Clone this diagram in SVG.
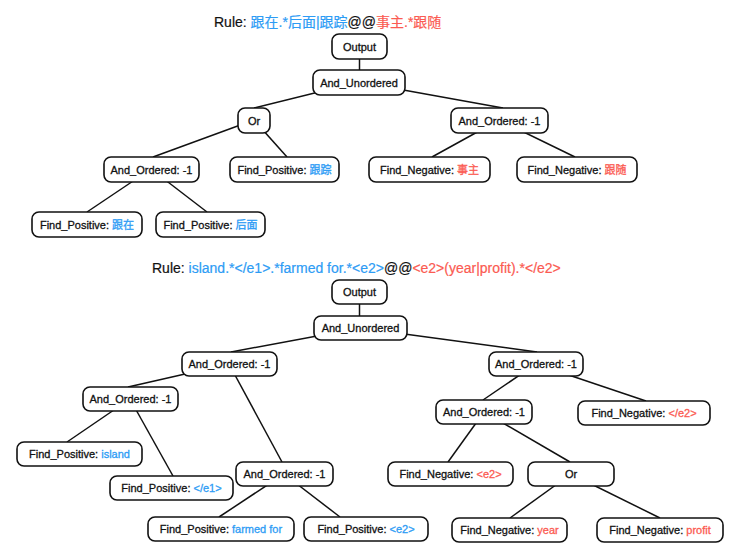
<svg xmlns="http://www.w3.org/2000/svg" width="740" height="559" viewBox="0 0 740 559">
<style>
.n rect{fill:#fff;stroke:#111;stroke-width:1.6}
.n text{font-family:"Liberation Sans","Noto Sans CJK SC",sans-serif;font-size:11px;text-anchor:middle;fill:#111;stroke:#111;stroke-width:0.3}
.rule{font-family:"Liberation Sans","Noto Sans CJK SC",sans-serif;font-size:14px;fill:#111;stroke:#111;stroke-width:0.2}
.b{fill:#2d9cf5;stroke:#2d9cf5}
.r{fill:#fb5b52;stroke:#fb5b52}
#edges line{stroke:#111;stroke-width:1.5}
</style>
<rect width="740" height="559" fill="#fff"/>
<text class="rule" x="214" y="27">Rule: <tspan class="b">跟在.*后面|跟踪</tspan>@@<tspan class="r">事主.*跟随</tspan></text>
<text class="rule" x="152" y="273">Rule: <tspan class="b">island.*&lt;/e1&gt;.*farmed for.*&lt;e2&gt;</tspan>@@<tspan class="r">&lt;e2&gt;(year|profit).*&lt;/e2&gt;</tspan></text>
<g id="edges">
<line x1="359.5" y1="46" x2="359.5" y2="70"/>
<line x1="359" y1="82" x2="254" y2="108"/>
<line x1="359" y1="82" x2="503" y2="108"/>
<line x1="254" y1="120" x2="153" y2="157"/>
<line x1="254" y1="120" x2="287" y2="157"/>
<line x1="499" y1="120" x2="432" y2="157"/>
<line x1="499" y1="120" x2="575" y2="157"/>
<line x1="151" y1="169" x2="87" y2="212"/>
<line x1="151" y1="169" x2="207" y2="212"/>
<line x1="359.5" y1="292" x2="359.5" y2="316"/>
<line x1="360" y1="328" x2="231" y2="352"/>
<line x1="360" y1="328" x2="537" y2="352"/>
<line x1="229" y1="364" x2="128" y2="387"/>
<line x1="229" y1="364" x2="282" y2="462"/>
<line x1="536" y1="364" x2="483" y2="400"/>
<line x1="536" y1="364" x2="646" y2="401"/>
<line x1="130" y1="399" x2="67" y2="442"/>
<line x1="130" y1="399" x2="173" y2="476"/>
<line x1="484" y1="412" x2="448" y2="462"/>
<line x1="484" y1="412" x2="570" y2="462"/>
<line x1="284" y1="474" x2="219" y2="517"/>
<line x1="284" y1="474" x2="340" y2="517"/>
<line x1="571" y1="474" x2="510" y2="518"/>
<line x1="571" y1="474" x2="660" y2="518"/>
</g>
<g id="t_output" class="n"><rect x="332" y="34" width="55" height="25" rx="7"/><text x="359.5" y="50.5">Output</text></g>
<g id="t_and_unordered" class="n"><rect x="313" y="70" width="92" height="25" rx="7"/><text x="359" y="86.5">And_Unordered</text></g>
<g id="t_or" class="n"><rect x="238" y="108" width="32" height="25" rx="7"/><text x="254" y="124.5">Or</text></g>
<g id="t_and_ordered_r" class="n"><rect x="451" y="108" width="97" height="25" rx="7"/><text x="499.5" y="124.5">And_Ordered: -1</text></g>
<g id="t_and_ordered_l" class="n"><rect x="104" y="157" width="95" height="25" rx="7"/><text x="151.5" y="173.5">And_Ordered: -1</text></g>
<g id="t_fp_genzong" class="n"><rect x="230" y="157" width="109" height="25" rx="7"/><text x="284.5" y="173.5">Find_Positive: <tspan class="b">跟踪</tspan></text></g>
<g id="t_fn_shizhu" class="n"><rect x="369" y="157" width="121" height="25" rx="7"/><text x="429.5" y="173.5">Find_Negative: <tspan class="r">事主</tspan></text></g>
<g id="t_fn_gensui" class="n"><rect x="517" y="157" width="120" height="25" rx="7"/><text x="577" y="173.5">Find_Negative: <tspan class="r">跟随</tspan></text></g>
<g id="t_fp_genzai" class="n"><rect x="32" y="212" width="110" height="25" rx="7"/><text x="87" y="228.5">Find_Positive: <tspan class="b">跟在</tspan></text></g>
<g id="t_fp_houmian" class="n"><rect x="156" y="212" width="109" height="25" rx="7"/><text x="210.5" y="228.5">Find_Positive: <tspan class="b">后面</tspan></text></g>
<g id="b_output" class="n"><rect x="332" y="280" width="55" height="24" rx="7"/><text x="359.5" y="296">Output</text></g>
<g id="b_and_unordered" class="n"><rect x="314" y="316" width="93" height="24" rx="7"/><text x="360.5" y="332">And_Unordered</text></g>
<g id="b_and_ordered_1" class="n"><rect x="182" y="352" width="95" height="24" rx="7"/><text x="229.5" y="368">And_Ordered: -1</text></g>
<g id="b_and_ordered_4" class="n"><rect x="489" y="352" width="94" height="24" rx="7"/><text x="536" y="368">And_Ordered: -1</text></g>
<g id="b_and_ordered_2" class="n"><rect x="83" y="387" width="95" height="24" rx="7"/><text x="130.5" y="403">And_Ordered: -1</text></g>
<g id="b_and_ordered_5" class="n"><rect x="436" y="400" width="96" height="24" rx="7"/><text x="484" y="416">And_Ordered: -1</text></g>
<g id="b_fn_e2_close" class="n"><rect x="578" y="401" width="132" height="24" rx="7"/><text x="644" y="417">Find_Negative: <tspan class="r">&lt;/e2&gt;</tspan></text></g>
<g id="b_fp_island" class="n"><rect x="17" y="442" width="125" height="24" rx="7"/><text x="79.5" y="458">Find_Positive: <tspan class="b">island</tspan></text></g>
<g id="b_fp_e1" class="n"><rect x="110" y="476" width="123" height="24" rx="7"/><text x="171.5" y="492">Find_Positive: <tspan class="b">&lt;/e1&gt;</tspan></text></g>
<g id="b_and_ordered_3" class="n"><rect x="236" y="462" width="97" height="24" rx="7"/><text x="284.5" y="478">And_Ordered: -1</text></g>
<g id="b_fn_e2" class="n"><rect x="388" y="462" width="125" height="24" rx="7"/><text x="450.5" y="478">Find_Negative: <tspan class="r">&lt;e2&gt;</tspan></text></g>
<g id="b_or" class="n"><rect x="528" y="462" width="86" height="24" rx="7"/><text x="571" y="478">Or</text></g>
<g id="b_fp_farmed" class="n"><rect x="148" y="517" width="146" height="24" rx="7"/><text x="221" y="533">Find_Positive: <tspan class="b">farmed for</tspan></text></g>
<g id="b_fp_e2" class="n"><rect x="304" y="517" width="124" height="24" rx="7"/><text x="366" y="533">Find_Positive: <tspan class="b">&lt;e2&gt;</tspan></text></g>
<g id="b_fn_year" class="n"><rect x="452" y="518" width="115" height="24" rx="7"/><text x="509.5" y="534">Find_Negative: <tspan class="r">year</tspan></text></g>
<g id="b_fn_profit" class="n"><rect x="597" y="518" width="126" height="24" rx="7"/><text x="660" y="534">Find_Negative: <tspan class="r">profit</tspan></text></g>
</svg>
